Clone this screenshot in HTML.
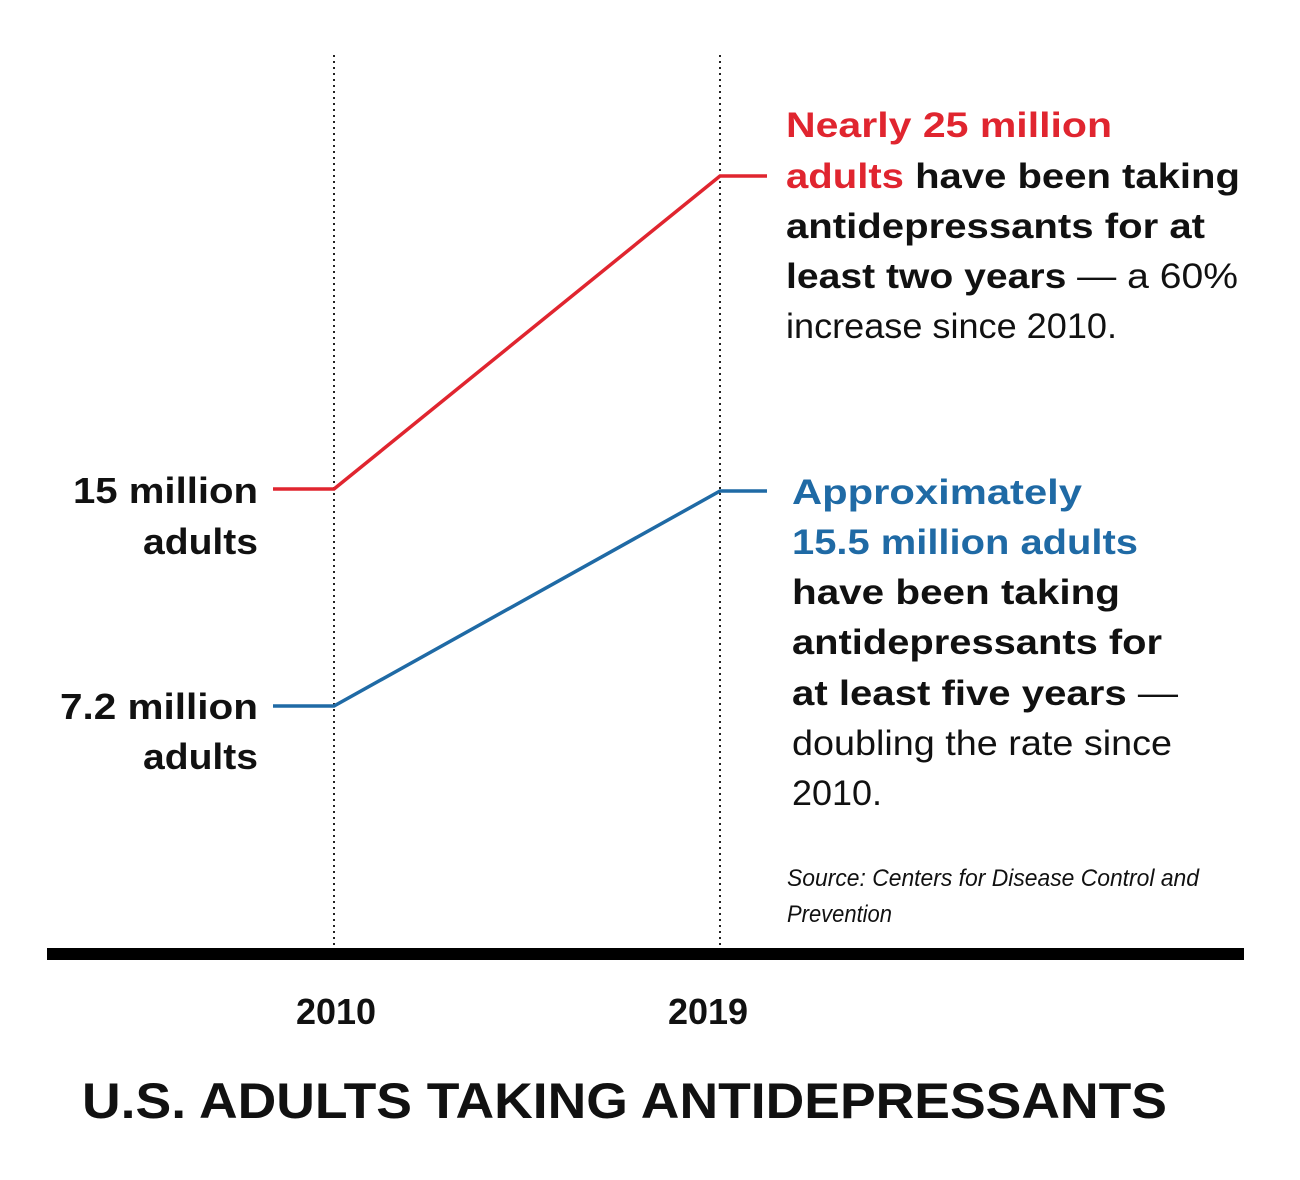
<!DOCTYPE html>
<html><head><meta charset="utf-8"><style>
html,body{margin:0;padding:0;background:#fff;}
svg{display:block;font-family:"Liberation Sans",sans-serif;}
</style></head><body>
<svg id="chart" width="1300" height="1180" viewBox="0 0 1300 1180" xmlns="http://www.w3.org/2000/svg">
<g id="grid"></g>
<g id="lines"></g>
<rect x="47" y="948" width="1197" height="12" fill="#000"/>
<g font-weight="bold" font-size="36" fill="#111" text-anchor="end">
<text x="258" y="503" textLength="185" lengthAdjust="spacingAndGlyphs">15 million</text>
<text x="258" y="554" textLength="115" lengthAdjust="spacingAndGlyphs">adults</text>
<text x="258" y="719" textLength="198" lengthAdjust="spacingAndGlyphs">7.2 million</text>
<text x="258" y="769" textLength="115" lengthAdjust="spacingAndGlyphs">adults</text>
</g>
<g font-size="35" fill="#111">
<text x="786" y="137" font-weight="bold" fill="#e0252f" textLength="326" lengthAdjust="spacingAndGlyphs">Nearly 25 million</text>
<text x="786" y="188" font-weight="bold" textLength="454" lengthAdjust="spacingAndGlyphs"><tspan fill="#e0252f">adults</tspan> have been taking</text>
<text x="786" y="238" font-weight="bold" textLength="419" lengthAdjust="spacingAndGlyphs">antidepressants for at</text>
<text x="786" y="288" textLength="452" lengthAdjust="spacingAndGlyphs"><tspan font-weight="bold">least two years</tspan> — a 60%</text>
<text x="786" y="338" textLength="331" lengthAdjust="spacingAndGlyphs">increase since 2010.</text>
</g>
<g font-size="35" fill="#111">
<text x="792" y="504" font-weight="bold" fill="#1f6aa5" textLength="290" lengthAdjust="spacingAndGlyphs">Approximately</text>
<text x="792" y="554" font-weight="bold" fill="#1f6aa5" textLength="346" lengthAdjust="spacingAndGlyphs">15.5 million adults</text>
<text x="792" y="604" font-weight="bold" textLength="328" lengthAdjust="spacingAndGlyphs">have been taking</text>
<text x="792" y="654" font-weight="bold" textLength="370" lengthAdjust="spacingAndGlyphs">antidepressants for</text>
<text x="792" y="705" textLength="386" lengthAdjust="spacingAndGlyphs"><tspan font-weight="bold">at least five years</tspan> —</text>
<text x="792" y="755" textLength="380" lengthAdjust="spacingAndGlyphs">doubling the rate since</text>
<text x="792" y="805" textLength="90" lengthAdjust="spacingAndGlyphs">2010.</text>
</g>
<g font-size="24" font-style="italic" fill="#111">
<text x="787" y="886" textLength="412" lengthAdjust="spacingAndGlyphs">Source: Centers for Disease Control and</text>
<text x="787" y="922" textLength="105" lengthAdjust="spacingAndGlyphs">Prevention</text>
</g>
<g id="xticks" font-weight="bold" font-size="36" fill="#111" text-anchor="middle"></g>
<text x="82" y="1118" font-weight="bold" font-size="50" fill="#111" textLength="1085" lengthAdjust="spacingAndGlyphs">U.S. ADULTS TAKING ANTIDEPRESSANTS</text>
</svg>
<script>
const years = ["2010", "2019"];
const redValues = [15, 25];
const blueValues = [7.2, 15.5];
const NS = "http://www.w3.org/2000/svg";
function xPos(i){ return 334 + i * (720 - 334); }
function yRed(v){ return 489 - (v - 15) * 31.3; }
function yBlue(v){ return 706 - (v - 7.2) * 25.9; }
const grid = document.getElementById('grid');
const xt = document.getElementById('xticks');
const tickX = [336, 708];
years.forEach((y, i) => {
  const l = document.createElementNS(NS, 'line');
  l.setAttribute('x1', xPos(i)); l.setAttribute('x2', xPos(i));
  l.setAttribute('y1', 55); l.setAttribute('y2', 948);
  l.setAttribute('stroke', '#222'); l.setAttribute('stroke-width', 2);
  l.setAttribute('stroke-dasharray', '2 4');
  
  
  grid.appendChild(l);
  const t = document.createElementNS(NS, 'text');
  t.setAttribute('x', xPos(i) + (i === 0 ? 2 : -12)); t.setAttribute('y', 1024);
  t.textContent = y;
  
  
  xt.appendChild(t);
});
function drawSeries(vals, yf, color, name){
  const pts = [[273, yf(vals[0])]];
  vals.forEach((v, i) => pts.push([xPos(i), yf(v)]));
  pts.push([767, yf(vals[vals.length - 1])]);
  const p = document.createElementNS(NS, 'polyline');
  p.setAttribute('points', pts.map(q => q.join(',')).join(' '));
  p.setAttribute('fill', 'none'); p.setAttribute('stroke', color); p.setAttribute('stroke-width', 3.5);
  
  
  document.getElementById('lines').appendChild(p);
}
drawSeries(redValues, yRed, '#e0252f', 'line-two-years');
drawSeries(blueValues, yBlue, '#1f6aa5', 'line-five-years');
</script>
</body></html>
